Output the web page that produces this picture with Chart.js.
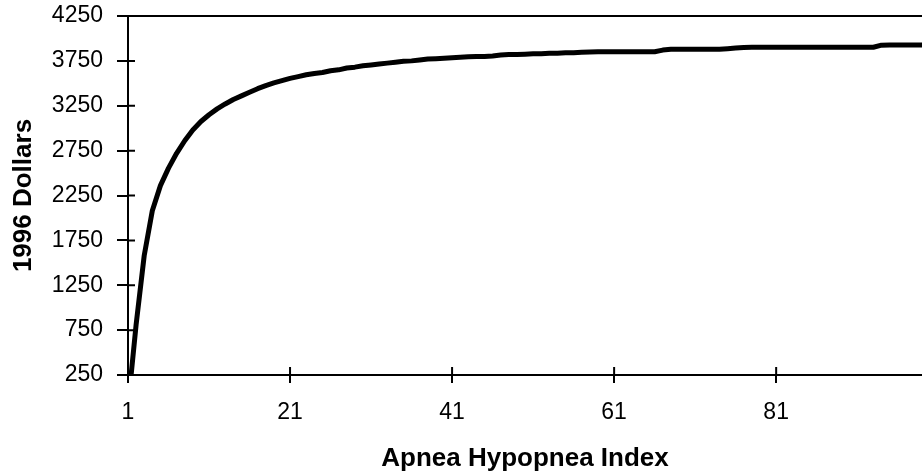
<!DOCTYPE html>
<html>
<head>
<meta charset="utf-8">
<script src="https://cdn.jsdelivr.net/npm/chart.js@4/dist/chart.umd.min.js"></script>
<style>
  html, body { margin: 0; padding: 0; background: #fff; }
  #wrap { width: 922px; height: 475px; }
</style>
</head>
<body>
<div id="wrap"><canvas id="ahi-cost-chart" width="922" height="475"></canvas></div>
<script>
// apnea hypopnea index, 1..99
var ahi = [];
for (var i = 1; i <= 99; i++) ahi.push(String(i));

// cost in 1996 dollars
var dollars = [
  -100, 810, 1580, 2080, 2360, 2555, 2720, 2860, 2980, 3075,
  3150, 3215, 3270, 3320, 3360, 3400, 3440, 3475, 3505, 3530,
  3555, 3575, 3595, 3610, 3620, 3640, 3650, 3670, 3680, 3695,
  3705, 3715, 3725, 3735, 3745, 3750, 3760, 3770, 3775, 3780,
  3785, 3790, 3795, 3800, 3800, 3805, 3815, 3820, 3820, 3825,
  3830, 3830, 3835, 3835, 3840, 3840, 3845, 3848, 3852, 3852,
  3852, 3852, 3852, 3852, 3852, 3852, 3870, 3879, 3879, 3879,
  3879, 3879, 3879, 3879, 3885, 3893, 3900, 3902, 3902, 3902,
  3902, 3902, 3902, 3902, 3902, 3902, 3902, 3902, 3902, 3902,
  3902, 3902, 3902, 3925, 3927, 3927, 3927, 3927, 3927
];

var yMin = 250, yMax = 4250, yStep = 500;
var xEvery = 20;

var tickFont = { family: "'Liberation Sans', Arial, sans-serif", size: 23 };
var titleFont = { family: "'Liberation Sans', Arial, sans-serif", size: 26, weight: 'bold' };

// top border + the inner half of the cross ticks
var framePlugin = {
  id: 'frame',
  afterDraw: function(chart) {
    var ctx = chart.ctx, a = chart.chartArea;
    var xs = chart.scales.x, ys = chart.scales.y;
    ctx.save();
    ctx.strokeStyle = '#000';
    ctx.lineWidth = 2;
    ctx.beginPath();
    ctx.moveTo(a.left, a.top);
    ctx.lineTo(a.right, a.top);
    ys.ticks.forEach(function(t) {
      var py = ys.getPixelForValue(t.value);
      ctx.moveTo(a.left, py);
      ctx.lineTo(a.left + 7, py);
    });
    ahi.forEach(function(lab, idx) {
      if (idx % xEvery !== 0) return;
      var px = xs.getPixelForValue(idx);
      ctx.moveTo(px, a.bottom);
      ctx.lineTo(px, a.bottom - 8);
    });
    ctx.stroke();
    ctx.restore();
  }
};

new Chart(document.getElementById('ahi-cost-chart').getContext('2d'), {
  type: 'line',
  data: {
    labels: ahi,
    datasets: [{
      label: 'Cost',
      data: dollars,
      borderColor: '#000',
      borderWidth: 5,
      pointRadius: 0,
      tension: 0,
      borderJoinStyle: 'round',
      borderCapStyle: 'round',
      clip: 0
    }]
  },
  options: {
    responsive: false,
    animation: false,
    devicePixelRatio: 1,
    layout: { padding: { top: 16, right: 0, left: 0, bottom: 0 } },
    plugins: { legend: { display: false }, tooltip: { enabled: false } },
    scales: {
      x: {
        type: 'category',
        offset: false,
        grid: { drawOnChartArea: false, color: '#000', lineWidth: 2, tickLength: 8 },
        border: { color: '#000', width: 2 },
        ticks: {
          autoSkip: false,
          maxRotation: 0,
          padding: 16,
          color: '#000',
          font: tickFont,
          callback: function(v, idx) { return idx % xEvery === 0 ? ahi[idx] : null; }
        },
        title: {
          display: true,
          text: 'Apnea Hypopnea Index',
          color: '#000',
          font: titleFont,
          padding: { top: 0, bottom: 1 }
        },
        afterFit: function(s) { s.height = 100; s.paddingRight = 0; }
      },
      y: {
        min: yMin,
        max: yMax,
        grid: { drawOnChartArea: false, color: '#000', lineWidth: 2, tickLength: 11 },
        border: { color: '#000', width: 2 },
        ticks: {
          stepSize: yStep,
          padding: 14,
          color: '#000',
          font: tickFont,
          callback: function(v) { return String(v); }
        },
        title: {
          display: true,
          text: '1996 Dollars',
          color: '#000',
          font: titleFont,
          padding: { top: 8, bottom: 0 }
        },
        afterFit: function(s) { s.width = 128; s.paddingTop = 0; s.paddingBottom = 0; }
      }
    }
  },
  plugins: [framePlugin]
});
</script>
</body>
</html>
